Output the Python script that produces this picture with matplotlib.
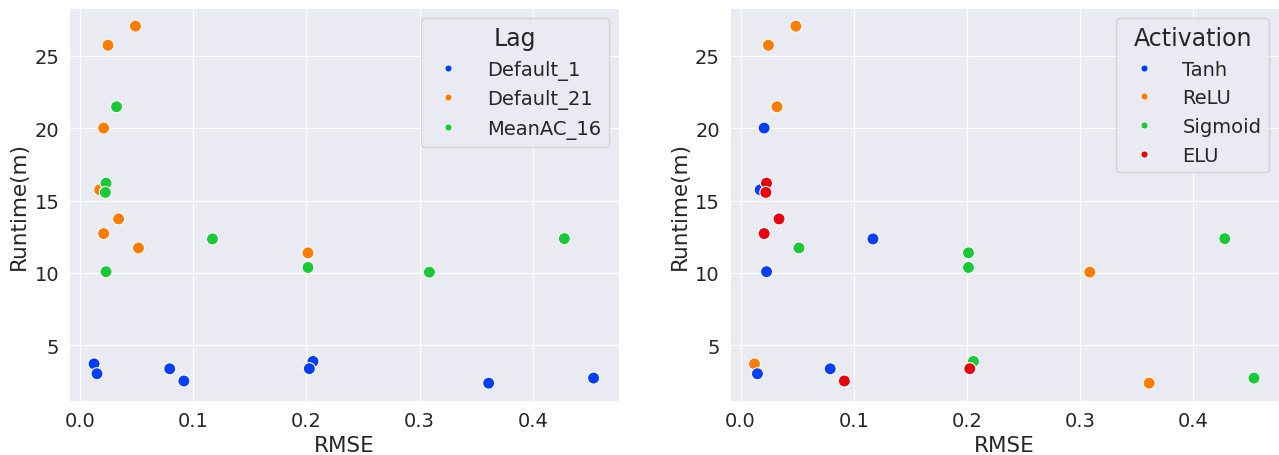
import matplotlib
matplotlib.use("Agg")
import matplotlib.pyplot as plt
from matplotlib.lines import Line2D
import seaborn as sns

sns.set_style("darkgrid")

# Runs (RMSE, runtime in minutes), with the lag setting and activation of each
rmse = [0.0123, 0.0149, 0.0792, 0.0917, 0.2058, 0.2026, 0.3611, 0.4538,
        0.0489, 0.0246, 0.0208, 0.0173, 0.0340, 0.0208, 0.0516, 0.2014,
        0.0322, 0.0229, 0.0223, 0.0229, 0.1170, 0.2014, 0.3087, 0.4280]
runtime = [3.73, 3.05, 3.39, 2.55, 3.90, 3.40, 2.40, 2.75,
           27.03, 25.71, 20.00, 15.74, 13.73, 12.72, 11.73, 11.39,
           21.47, 16.20, 15.56, 10.09, 12.35, 10.38, 10.06, 12.37]
lag = ["Default_1"] * 8 + ["Default_21"] * 8 + ["MeanAC_16"] * 8
activation = ["ReLU", "Tanh", "Tanh", "ELU", "Sigmoid", "ELU", "ReLU", "Sigmoid",
              "ReLU", "ReLU", "Tanh", "Tanh", "ELU", "ELU", "Sigmoid", "Sigmoid",
              "ReLU", "ELU", "ELU", "Tanh", "Tanh", "Sigmoid", "ReLU", "Sigmoid"]

lag_order = ["Default_1", "Default_21", "MeanAC_16"]
act_order = ["Tanh", "ReLU", "Sigmoid", "ELU"]
bright = sns.color_palette("bright")
pal = [bright[0], bright[1], bright[2], bright[3]]

fig, axes = plt.subplots(1, 2, figsize=(12.79, 4.56), dpi=100)
plt.subplots_adjust(left=0.054, right=1.0, top=0.9796, bottom=0.1184, wspace=0.202)

for ax, groups, order, title in [(axes[0], lag, lag_order, "Lag"),
                                 (axes[1], activation, act_order, "Activation")]:
    colors = [pal[order.index(g)] for g in groups]
    ax.scatter(rmse, runtime, c=colors, s=75, edgecolors="white", linewidths=0.8, zorder=3)
    ax.set_xlabel("RMSE", fontsize=15.5)
    ax.set_ylabel("Runtime(m)", fontsize=15.5)
    ax.tick_params(labelsize=14)
    ax.set_yticks([5, 10, 15, 20, 25])
    handles = [Line2D([], [], marker="o", linestyle="", color=pal[i],
                      markersize=5, markeredgecolor="white", markeredgewidth=0.5)
               for i in range(len(order))]
    leg = ax.legend(handles, order, title=title, loc="upper right",
                    fontsize=14, title_fontsize=17, handletextpad=1.0)

fig.savefig("out.png", dpi=100)
